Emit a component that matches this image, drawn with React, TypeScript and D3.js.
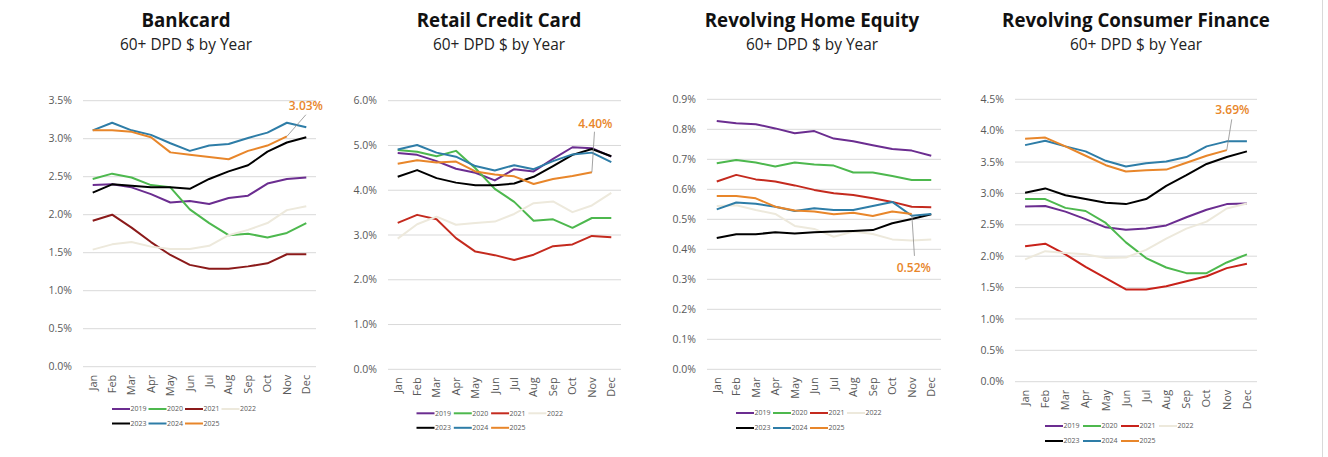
import React from "react";
import * as d3 from "d3";

const months = ["Jan", "Feb", "Mar", "Apr", "May", "Jun", "Jul", "Aug", "Sep", "Oct", "Nov", "Dec"];
const years = ["2019", "2020", "2021", "2022", "2023", "2024", "2025"];

// Bankcard 60+ DPD $ (%)
const bc2019 = [2.39, 2.40, 2.36, 2.27, 2.16, 2.18, 2.14, 2.22, 2.25, 2.41, 2.47, 2.49];
const bc2020 = [2.47, 2.54, 2.49, 2.39, 2.36, 2.07, 1.89, 1.73, 1.75, 1.70, 1.76, 1.89];
const bc2021 = [1.92, 2.00, 1.83, 1.64, 1.47, 1.34, 1.29, 1.29, 1.32, 1.36, 1.48, 1.48];
const bc2022 = [1.54, 1.61, 1.64, 1.58, 1.55, 1.55, 1.59, 1.73, 1.80, 1.89, 2.06, 2.11];
const bc2023 = [2.29, 2.40, 2.38, 2.36, 2.36, 2.34, 2.47, 2.57, 2.65, 2.83, 2.95, 3.02];
const bc2024 = [3.11, 3.21, 3.11, 3.05, 2.94, 2.84, 2.91, 2.93, 3.01, 3.08, 3.21, 3.15];
const bc2025 = [3.11, 3.11, 3.09, 3.02, 2.82, 2.79, 2.76, 2.73, 2.84, 2.91, 3.03];

// Retail Credit Card
const rc2019 = [4.83, 4.79, 4.65, 4.48, 4.39, 4.22, 4.47, 4.42, 4.70, 4.96, 4.94, 4.75];
const rc2020 = [4.90, 4.86, 4.76, 4.88, 4.49, 4.03, 3.74, 3.32, 3.35, 3.16, 3.38, 3.38];
const rc2021 = [3.27, 3.45, 3.35, 2.93, 2.63, 2.55, 2.44, 2.56, 2.75, 2.79, 2.98, 2.95];
const rc2022 = [2.92, 3.24, 3.41, 3.23, 3.27, 3.30, 3.47, 3.71, 3.75, 3.51, 3.66, 3.94];
const rc2023 = [4.30, 4.45, 4.27, 4.17, 4.11, 4.11, 4.15, 4.30, 4.54, 4.79, 4.92, 4.76];
const rc2024 = [4.91, 5.01, 4.84, 4.75, 4.54, 4.44, 4.56, 4.47, 4.65, 4.80, 4.84, 4.63];
const rc2025 = [4.59, 4.67, 4.62, 4.64, 4.42, 4.35, 4.31, 4.14, 4.25, 4.32, 4.40];

// Revolving Home Equity
const he2019 = [0.828, 0.820, 0.817, 0.803, 0.787, 0.794, 0.769, 0.760, 0.747, 0.734, 0.729, 0.712];
const he2020 = [0.687, 0.698, 0.689, 0.676, 0.689, 0.683, 0.679, 0.656, 0.656, 0.644, 0.631, 0.631];
const he2021 = [0.626, 0.648, 0.633, 0.626, 0.613, 0.598, 0.587, 0.581, 0.570, 0.558, 0.542, 0.540];
const he2022 = [0.544, 0.547, 0.531, 0.518, 0.478, 0.468, 0.442, 0.459, 0.451, 0.433, 0.429, 0.433];
const he2023 = [0.438, 0.450, 0.450, 0.457, 0.453, 0.457, 0.459, 0.461, 0.464, 0.487, 0.501, 0.517];
const he2024 = [0.533, 0.556, 0.552, 0.542, 0.528, 0.537, 0.531, 0.531, 0.544, 0.558, 0.512, 0.518];
const he2025 = [0.578, 0.578, 0.570, 0.542, 0.529, 0.526, 0.517, 0.522, 0.511, 0.526, 0.518];

// Revolving Consumer Finance
const cf2019 = [2.79, 2.80, 2.71, 2.59, 2.46, 2.42, 2.44, 2.49, 2.62, 2.74, 2.83, 2.84];
const cf2020 = [2.91, 2.91, 2.77, 2.72, 2.53, 2.22, 1.97, 1.82, 1.73, 1.73, 1.90, 2.03];
const cf2021 = [2.16, 2.20, 2.03, 1.83, 1.65, 1.47, 1.47, 1.52, 1.60, 1.68, 1.81, 1.88];
const cf2022 = [1.95, 2.08, 2.05, 2.03, 1.97, 1.98, 2.10, 2.28, 2.44, 2.55, 2.76, 2.84];
const cf2023 = [3.01, 3.08, 2.97, 2.91, 2.85, 2.83, 2.91, 3.12, 3.29, 3.47, 3.58, 3.67];
const cf2024 = [3.77, 3.84, 3.75, 3.67, 3.52, 3.43, 3.48, 3.51, 3.58, 3.75, 3.83, 3.83];
const cf2025 = [3.87, 3.89, 3.75, 3.60, 3.45, 3.35, 3.37, 3.38, 3.49, 3.60, 3.69];

const titles = ["Bankcard", "Retail Credit Card", "Revolving Home Equity", "Revolving Consumer Finance"];
const subtitle = "60+ DPD $ by Year";
const yMaxes = [3.5, 6.0, 0.9, 4.5];
const yStepsPct = [0.5, 1.0, 0.1, 0.5];
const calloutLabels = ["3.03%", "4.40%", "0.52%", "3.69%"];

const panelData = [
  [bc2019, bc2020, bc2021, bc2022, bc2023, bc2024, bc2025],
  [rc2019, rc2020, rc2021, rc2022, rc2023, rc2024, rc2025],
  [he2019, he2020, he2021, he2022, he2023, he2024, he2025],
  [cf2019, cf2020, cf2021, cf2022, cf2023, cf2024, cf2025],
];

// styling / layout
const baseColors = ["#6B2D90", "#4DB84E", "#C0261C", "#EDE9DC", "#000000", "#2E7DA7", "#E8862A"];
const layouts = [
  { x0: 83, x1: 316, yTop: 100.7, yBot: 366.7, titleX: 186, legX: 112, legY: 409, legGap: 36.5, legRow: 14.5, red: "#8B1A1A",
    call: { lx: 19, ly: -21.7, tx: 19, ty: -26, anchor: "middle" } },
  { x0: 388, x1: 621, yTop: 100.7, yBot: 369.3, titleX: 499, legX: 416.5, legY: 413.3, legGap: 37.3, legRow: 14.5, red: "#C42A1E",
    call: { lx: 2.6, ly: -40.6, tx: 3.5, ty: -44.6, anchor: "middle" } },
  { x0: 707, x1: 941, yTop: 99.3, yBot: 369.3, titleX: 812, legX: 736, legY: 413, legGap: 37, legRow: 15, red: "#C42A1E",
    call: { lx: 2.7, ly: 42, tx: 2, ty: 57.8, anchor: "middle" } },
  { x0: 1015, x1: 1257, yTop: 99.3, yBot: 381.7, titleX: 1136, legX: 1045, legY: 426, legGap: 38, legRow: 15, red: "#C8221A",
    call: { lx: 5, ly: -30.8, tx: 5.6, ty: -36, anchor: "middle" } },
];

const tickFont = "'Open Sans', 'DejaVu Sans', sans-serif";

function Panel({ idx }: { idx: number }) {
  const L = layouts[idx];
  const series = panelData[idx];
  const x = d3.scalePoint<string>().domain(months).range([L.x0, L.x1]).padding(0.5);
  const y = d3.scaleLinear().domain([0, yMaxes[idx]]).range([L.yBot, L.yTop]);
  const step = yStepsPct[idx];
  const nTicks = Math.round(yMaxes[idx] / step);
  const ticks = d3.range(nTicks + 1).map((i) => +(i * step).toFixed(2));
  const line = d3
    .line<number>()
    .x((_, i) => x(months[i]) as number)
    .y((v) => y(v));
  const colors = baseColors.map((c, i) => (i === 2 ? L.red : c));
  const s2025 = series[6];
  const lastI = s2025.length - 1;
  const px = x(months[lastI]) as number;
  const py = y(s2025[lastI]);
  const cx = (L.x0 + L.x1) / 2;
  return (
    <g>
      <text x={L.titleX} y={27.3} textAnchor="middle" fontFamily="'Open Sans', sans-serif" fontWeight={700} fontSize={18.7} fill="#111">
        {titles[idx]}
      </text>
      <text x={L.titleX} y={49.5} textAnchor="middle" fontFamily="'Open Sans', sans-serif" fontSize={15.4} fill="#222">
        {subtitle}
      </text>
      {ticks.map((t) => (
        <g key={t}>
          <line x1={L.x0} x2={L.x1} y1={y(t)} y2={y(t)} stroke="#D9D9D9" strokeWidth={1} />
          <text x={L.x0 - 11} y={y(t)} dy="0.35em" textAnchor="end" fontFamily={tickFont} fontSize={10.5} fill="#595959">
            {d3.format(idx === 2 ? ".1f" : ".1f")(t) + "%"}
          </text>
        </g>
      ))}
      {months.map((m) => (
        <text
          key={m}
          transform={`translate(${x(m)},${L.yBot + 8}) rotate(-90)`}
          textAnchor="end"
          dy="0.35em"
          fontFamily={tickFont}
          fontSize={11}
          fill="#595959"
        >
          {m}
        </text>
      ))}
      {series.map((s, i) => (
        <path key={i} d={line(s) || ""} fill="none" stroke={colors[i]} strokeWidth={2} strokeLinejoin="round" />
      ))}
      <line x1={px} y1={py} x2={px + L.call.lx} y2={py + L.call.ly} stroke="#8C8C8C" strokeWidth={0.8} />
      <text
        x={px + L.call.tx}
        y={py + L.call.ty}
        textAnchor={L.call.anchor as any}
        fontFamily="'Open Sans', sans-serif"
        fontWeight={600}
        fontSize={12}
        fill="#E8862A"
      >
        {calloutLabels[idx]}
      </text>
      {years.map((yr, i) => {
        const row = i < 4 ? 0 : 1;
        const col = i < 4 ? i : i - 4;
        const lx = L.legX + col * L.legGap;
        const ly = L.legY + row * L.legRow;
        return (
          <g key={yr}>
            <line x1={lx} x2={lx + 18} y1={ly} y2={ly} stroke={colors[i]} strokeWidth={2} />
            <text x={lx + 18.5} y={ly} dy="0.35em" fontFamily={tickFont} fontSize={7} fill="#595959">
              {yr}
            </text>
          </g>
        );
      })}
    </g>
  );
}

export default function App() {
  return (
    <svg
      width={1328}
      height={457}
      viewBox="0 0 1328 457"
      style={{ position: "absolute", left: 0, top: 0, background: "#fff" }}
    >
      <rect x={0} y={0} width={1328} height={457} fill="#fff" />
      {[0, 1, 2, 3].map((i) => (
        <Panel key={i} idx={i} />
      ))}
      <line x1={1322.5} x2={1322.5} y1={0} y2={457} stroke="#D9D9D9" strokeWidth={1} />
    </svg>
  );
}
